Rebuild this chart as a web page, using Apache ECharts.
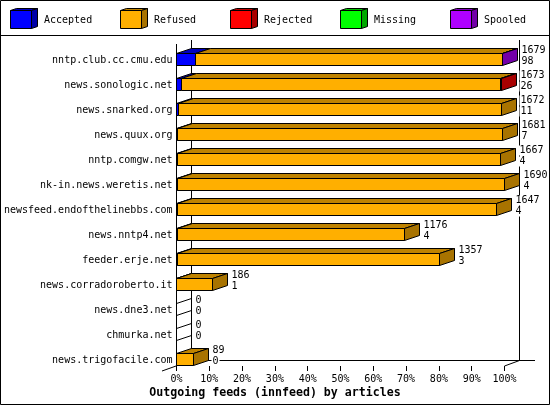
<!DOCTYPE html>
<html>
<head>
<meta charset="utf-8">
<style>html,body{margin:0;padding:0;background:#fff}#chart{width:550px;height:405px}</style>
<script src="https://cdn.jsdelivr.net/npm/echarts@6/dist/echarts.min.js"></script>
</head>
<body>
<div id="chart"></div>
<script>
const categories = ['nntp.club.cc.cmu.edu', 'news.sonologic.net', 'news.snarked.org', 'news.quux.org',
  'nntp.comgw.net', 'nk-in.news.weretis.net', 'newsfeed.endofthelinebbs.com', 'news.nntp4.net',
  'feeder.erje.net', 'news.corradoroberto.it', 'news.dne3.net', 'chmurka.net', 'news.trigofacile.com'];
const accepted = [98, 26, 11, 7, 4, 4, 4, 4, 3, 1, 0, 0, 0];
const refused = [1580, 1644, 1661, 1674, 1663, 1686, 1643, 1172, 1354, 185, 0, 0, 89];
const rejected = [0, 3, 0, 0, 0, 0, 0, 0, 0, 0, 0, 0, 0];
const missing = [0, 0, 0, 0, 0, 0, 0, 0, 0, 0, 0, 0, 0];
const spooled = [1, 0, 0, 0, 0, 0, 0, 0, 0, 0, 0, 0, 0];
const seriesNames = ['Accepted', 'Refused', 'Rejected', 'Missing', 'Spooled'];
const seriesValues = [accepted, refused, rejected, missing, spooled];
const frontColors = ['#0000ff', '#ffaf00', '#ff0000', '#00ff00', '#af00ff'];
const topColors = ['#0000bf', '#bf8300', '#bf0000', '#00bf00', '#8300bf'];
const sideColors = ['#0000a8', '#a87300', '#a80000', '#00a800', '#7300a8'];

const DX = 15, DY = 5, BAR_H = 12;
const MONO = '"DejaVu Sans Mono", monospace';

const totals = categories.map((c, i) => seriesValues.reduce((s, v) => s + v[i], 0));
const maxTotal = Math.max(...totals);
const snap = v => Math.floor(v) + 0.5;

function poly(points, fill) {
  return { type: 'polygon', shape: { points }, style: { fill: fill, stroke: '#000', lineWidth: 1 } };
}

function makeSeries(idx) {
  const data = categories.map((c, i) => {
    let before = 0;
    for (let k = 0; k < idx; k++) before += seriesValues[k][i];
    return [before / maxTotal * 100, (before + seriesValues[idx][i]) / maxTotal * 100, i];
  });
  return {
    type: 'custom',
    name: seriesNames[idx],
    z: 10,
    data: data,
    encode: { x: [0, 1], y: 2 },
    renderItem: function (params, api) {
      const row = api.value(2);
      const a = api.coord([api.value(0), row]);
      const b = api.coord([api.value(1), row]);
      const x0 = snap(a[0]), x1 = snap(b[0]), y = snap(a[1]), yb = y + BAR_H;
      const children = [];
      const own = seriesValues[idx][row];
      const lastOne = own > 0 && api.value(1) >= totals[row] / maxTotal * 100 - 1e-9;
      if (own > 0) {
        children.push(poly([[x0, y], [x1, y], [x1, yb], [x0, yb]], frontColors[idx]));
        children.push(poly([[x0, y], [x0 + DX, y - DY], [x1 + DX, y - DY], [x1, y]], topColors[idx]));
      }
      if (lastOne) {
        children.push(poly([[x1, y], [x1 + DX, y - DY], [x1 + DX, yb - DY], [x1, yb]], sideColors[idx]));
      }
      if (idx === 0 && totals[row] === 0) {
        // empty feed: only the side outline is left
        children.push(poly([[x0, y], [x0 + DX, y - DY], [x0 + DX, yb - DY], [x0, yb]], 'none'));
      }
      return { type: 'group', children };
    }
  };
}

// value labels right of each bar: total, then accepted
const labelSeries = {
  type: 'custom',
  name: 'labels',
  z: 20,
  zlevel: 1,
  silent: true,
  clip: false,
  data: totals.map((t, i) => [t / maxTotal * 100, i]),
  encode: { x: 0, y: 1 },
  renderItem: function (params, api) {
    const row = api.value(1);
    const p = api.coord([api.value(0), row]);
    const x = snap(p[0]) + DX + 3, y = snap(p[1]);
    const children = [];
    if (row === categories.length - 1) {
      // back floor line, starts behind the last bar's side
      children.push({ type: 'rect', shape: { x: x - 3.5, y: 360, width: 535 - x + 3.5, height: 1 }, style: { fill: '#000' } });
    }
    [[totals[row], y - 3], [accepted[row], y + 8]].forEach(([v, yy]) => {
      const s = String(v);
      children.push({ type: 'rect', shape: { x: x, y: yy - 5, width: s.length * 6 + 2, height: 10 }, style: { fill: '#fff' } });
      children.push({
        type: 'text',
        style: { x: x + 1, y: yy, text: s, fill: '#000', font: '10px ' + MONO, verticalAlign: 'middle', align: 'left' }
      });
    });
    return { type: 'group', children };
  }
};

const line = (x1, y1, x2, y2) => ({
  type: 'line', shape: { x1, y1, x2, y2 }, style: { stroke: '#000', lineWidth: 1 }, z: 5
});

const legendBoxes = [];
seriesNames.forEach((name, i) => {
  const x = 10.5 + 110 * i, y = 10.5, w = 21, h = 18;
  legendBoxes.push({ type: 'polygon', z: 6, shape: { points: [[x, y], [x + 6, y - 2], [x + w + 6, y - 2], [x + w, y]] }, style: { fill: topColors[i], stroke: '#000' } });
  legendBoxes.push({ type: 'polygon', z: 6, shape: { points: [[x + w, y], [x + w + 6, y - 2], [x + w + 6, y + h - 2], [x + w, y + h]] }, style: { fill: sideColors[i], stroke: '#000' } });
  legendBoxes.push({ type: 'rect', z: 6, shape: { x, y, width: w, height: h }, style: { fill: frontColors[i], stroke: '#000' } });
  legendBoxes.push({ type: 'text', z: 6, style: { x: 44 + 110 * i, y: 20, text: name, fill: '#000', font: '10px ' + MONO, verticalAlign: 'middle' } });
});

const chart = echarts.init(document.getElementById('chart'));
chart.setOption({
  animation: false,
  backgroundColor: '#fff',
  title: {
    text: 'Outgoing feeds (innfeed) by articles',
    left: 'center', top: 382,
    textStyle: { fontFamily: MONO, fontSize: 11.6, fontWeight: 'bold', color: '#000' }
  },
  grid: { left: 176.5, top: 41, width: 328, height: 325 },
  xAxis: {
    type: 'value', min: 0, max: 100, interval: 10,
    axisLine: { show: false },
    axisTick: { show: true, length: 5, lineStyle: { color: '#000' } },
    splitLine: { show: false },
    axisLabel: { formatter: '{value}%', color: '#000', fontFamily: MONO, fontSize: 10, margin: 8 }
  },
  yAxis: {
    type: 'category', inverse: true, data: categories,
    axisLine: { show: false }, axisTick: { show: false }, splitLine: { show: false },
    axisLabel: { color: '#000', fontFamily: MONO, fontSize: 10, margin: 4, verticalAlign: 'top', lineHeight: 13, interval: 0 }
  },
  graphic: [
    { type: 'rect', z: 5, shape: { x: 0.5, y: 0.5, width: 549, height: 404 }, style: { fill: 'none', stroke: '#000' } },
    line(0, 35.5, 550, 35.5),
    line(176.5, 44, 176.5, 366),
    line(191.5, 40, 191.5, 360),
    line(519.5, 40, 519.5, 360),
    line(162, 371, 191.5, 360.5),
    line(504.5, 366, 519.5, 360.5)
  ].concat(legendBoxes),
  series: seriesNames.map((n, i) => makeSeries(i)).concat([labelSeries])
});
</script>
</body>
</html>
